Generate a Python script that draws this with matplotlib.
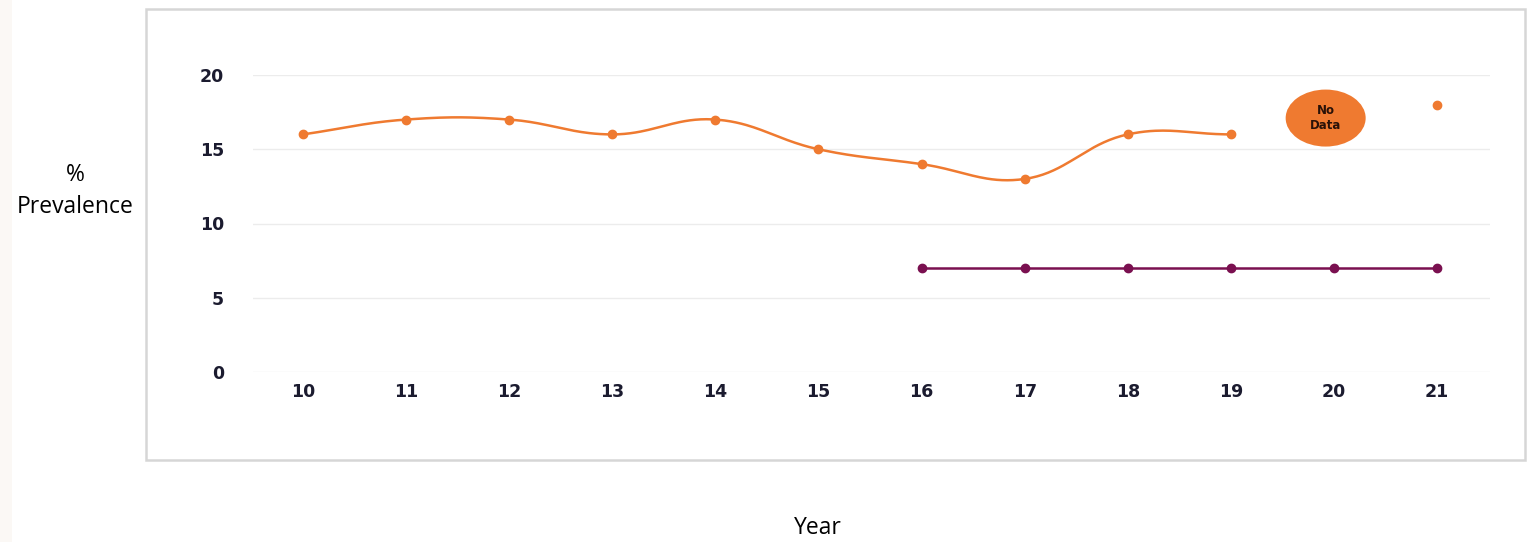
import numpy as np
import matplotlib
matplotlib.use("Agg")
import matplotlib.pyplot as plt
from matplotlib.patches import Rectangle, Ellipse

# Data
years = [10, 11, 12, 13, 14, 15, 16, 17, 18, 19, 20, 21]
year_labels = ["10", "11", "12", "13", "14", "15", "16", "17", "18", "19", "20", "21"]
orange_years = [10, 11, 12, 13, 14, 15, 16, 17, 18, 19]
orange_vals = [16, 17, 17, 16, 17, 15, 14, 13, 16, 16]
orange_extra_year = [21]
orange_extra_val = [18]
no_data_year = 20
purple_years = [16, 17, 18, 19, 20, 21]
purple_vals = [7, 7, 7, 7, 7, 7]
y_ticks = [0, 5, 10, 15, 20]

ORANGE = "#ef7a30"
PURPLE = "#7a1050"
TICK_COLOR = "#1b1b2f"

W, H = 1540, 542
fig = plt.figure(figsize=(W / 100, H / 100), dpi=100)
fig.patch.set_facecolor("white")

# faint strip on the far left edge
fig.add_artist(Rectangle((0, 0), 12 / W, 1, transform=fig.transFigure,
                         facecolor="#fbf8f5", edgecolor="none", zorder=0))

# outer card border
fig.add_artist(Rectangle((146 / W, 1 - 460 / H), (1525 - 146) / W, (460 - 9) / H,
                         transform=fig.transFigure, facecolor="none",
                         edgecolor="#d6d6d6", lw=1.8, zorder=1))

left, right, top, bottom = 253, 1490, 75, 372
ax = fig.add_axes([left / W, 1 - bottom / H, (right - left) / W, (bottom - top) / H])
x_per_px = 103.09
ax.set_xlim(10 - 50 / x_per_px, 21 + 53 / x_per_px)
ax.set_ylim(0, 20)
for s in ax.spines.values():
    s.set_visible(False)

for yv in y_ticks:
    ax.axhline(yv, color="#ececec", lw=1.0, zorder=1)

ax.set_yticks(y_ticks)
ax.set_yticklabels([str(v) for v in y_ticks])
ax.set_xticks(years)
ax.set_xticklabels(year_labels)
ax.tick_params(axis="both", length=0, colors=TICK_COLOR, labelsize=12.5)
ax.tick_params(axis="y", pad=21)
ax.tick_params(axis="x", pad=8)
for lab in ax.get_xticklabels() + ax.get_yticklabels():
    lab.set_fontweight("bold")
    lab.set_fontfamily("DejaVu Sans")


def smooth_curve(xs, ys, tension=0.4, sx=103.09, sy=14.85, n=40):
    """Bezier spline through the points, control points as in a cardinal spline."""
    px = np.asarray(xs, float) * sx
    py = np.asarray(ys, float) * sy
    m = len(px)
    cp_prev = np.zeros((m, 2))
    cp_next = np.zeros((m, 2))
    for i in range(m):
        pr = np.array([px[max(i - 1, 0)], py[max(i - 1, 0)]])
        cu = np.array([px[i], py[i]])
        nx = np.array([px[min(i + 1, m - 1)], py[min(i + 1, m - 1)]])
        d01 = np.hypot(*(cu - pr))
        d12 = np.hypot(*(nx - cu))
        tot = d01 + d12
        s01 = d01 / tot if tot else 0
        s12 = d12 / tot if tot else 0
        cp_prev[i] = cu - tension * s01 * (nx - pr)
        cp_next[i] = cu + tension * s12 * (nx - pr)
    outx, outy = [], []
    t = np.linspace(0, 1, n)
    for i in range(m - 1):
        p0 = np.array([px[i], py[i]])
        p1 = cp_next[i]
        p2 = cp_prev[i + 1]
        p3 = np.array([px[i + 1], py[i + 1]])
        b = ((1 - t) ** 3)[:, None] * p0 + (3 * (1 - t) ** 2 * t)[:, None] * p1 \
            + (3 * (1 - t) * t ** 2)[:, None] * p2 + (t ** 3)[:, None] * p3
        outx.extend(b[:, 0] / sx)
        outy.extend(b[:, 1] / sy)
    return np.array(outx), np.array(outy)


cx, cy = smooth_curve(orange_years, orange_vals)
ax.plot(cx, cy, color=ORANGE, lw=1.8, zorder=3, solid_capstyle="round")
ax.plot(orange_years, orange_vals, "o", color=ORANGE, ms=6, zorder=4)
ax.plot(orange_extra_year, orange_extra_val, "o", color=ORANGE, ms=6, zorder=4)

ax.plot(purple_years, purple_vals, color=PURPLE, lw=1.8, marker="o", ms=6, zorder=4)

# "No Data" badge for the missing year
badge_y = 17.1
ax.add_patch(Ellipse((no_data_year - 0.08, badge_y), 80 / x_per_px, 57 / 14.85,
                     facecolor=ORANGE, edgecolor="none", zorder=5))
ax.text(no_data_year - 0.08, badge_y, "No\nData", ha="center", va="center",
        fontsize=8.5, fontweight="bold", color="#2a1208", zorder=6,
        linespacing=1.15, family="DejaVu Sans")

fig.text(75 / W, 1 - 175 / H, "%", ha="center", va="center",
         fontsize=16.5, family="Open Sans", color="black")
fig.text(75 / W, 1 - 207 / H, "Prevalence", ha="center", va="center",
         fontsize=16.5, family="Open Sans", color="black")
fig.text(818 / W, 1 - 528 / H, "Year", ha="center", va="center",
         fontsize=16.5, family="Open Sans", color="black")

fig.savefig("out.png", dpi=100, facecolor="white")
